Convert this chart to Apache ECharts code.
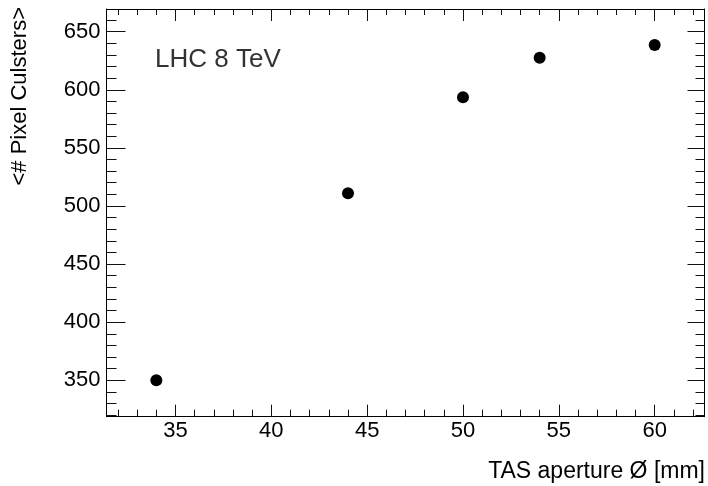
<!DOCTYPE html>
<html>
<head>
<meta charset="utf-8">
<script src="https://cdn.jsdelivr.net/npm/echarts@6/dist/echarts.min.js"></script>
<style>
  html, body { margin: 0; padding: 0; background: #fff; }
  #chart { width: 708px; height: 486px; }
</style>
</head>
<body>
<div id="chart"></div>
<script>
// data
const aperture = [34, 44, 50, 54, 60];
const clusters = [350, 511, 593.5, 627.5, 638.5];

// tick positions
const xMajor = [35, 40, 45, 50, 55, 60];
const xMinor = [32, 33, 34, 36, 37, 38, 39, 41, 42, 43, 44, 46, 47, 48, 49,
                51, 52, 53, 54, 56, 57, 58, 59, 61, 62];
const yMajor = [350, 400, 450, 500, 550, 600, 650];
const yMinor = [320, 330, 340, 360, 370, 380, 390, 410, 420, 430, 440, 460, 470, 480, 490,
                510, 520, 530, 540, 560, 570, 580, 590, 610, 620, 630, 640, 660];

const X_MIN = 31.4, X_MAX = 62.6;
const Y_MIN = 318.7, Y_MAX = 669.5;
const FONT = "Liberation Sans, Arial, sans-serif";

const chart = echarts.init(document.getElementById("chart"));

// one axis = one set of ticks (major / minor, bottom / top ...)
function tickAxis(pos, ticks, len, labels, withLine) {
  const isX = pos === "bottom" || pos === "top";
  return {
    type: "value",
    position: pos,
    min: isX ? X_MIN : Y_MIN,
    max: isX ? X_MAX : Y_MAX,
    axisLine: { show: !!withLine, onZero: false, lineStyle: { color: "#000", width: 1 } },
    axisTick: {
      show: true,
      inside: true,
      length: len,
      customValues: ticks,
      lineStyle: { color: "#111", width: 1 }
    },
    axisLabel: labels
      ? {
          show: true,
          customValues: ticks,
          color: "#000",
          fontFamily: FONT,
          fontSize: 22,
          margin: isX ? 3 : 6
        }
      : { show: false },
    splitLine: { show: false }
  };
}

const option = {
  animation: false,
  backgroundColor: "#fff",
  grid: {
    left: 106.5,
    top: 9,
    right: 3.5,
    bottom: 69.3,
    containLabel: false,
    outerBoundsMode: "none",
    show: false
  },
  xAxis: [
    tickAxis("bottom", xMajor, 12, true, true),
    tickAxis("bottom", xMinor, 7, false, false),
    tickAxis("top", xMajor, 12, false, true),
    tickAxis("top", xMinor, 6, false, false)
  ],
  yAxis: [
    tickAxis("left", yMajor, 19, true, true),
    tickAxis("left", yMinor, 10, false, false),
    tickAxis("right", yMajor, 17, false, true),
    tickAxis("right", yMinor, 9, false, false)
  ],
  series: [
    {
      type: "scatter",
      xAxisIndex: 0,
      yAxisIndex: 0,
      symbol: "circle",
      symbolSize: 12,
      itemStyle: { color: "#000", opacity: 1 },
      emphasis: { disabled: true },
      data: aperture.map((a, i) => [a, clusters[i]])
    }
  ],
  graphic: [
    {
      type: "text",
      x: 155,
      y: 60,
      style: {
        text: "LHC 8 TeV",
        fill: "#333",
        font: "26px " + FONT,
        align: "left",
        verticalAlign: "middle"
      }
    },
    {
      type: "text",
      x: 705,
      y: 472,
      style: {
        text: "TAS aperture Ø [mm]",
        fill: "#000",
        font: "23px " + FONT,
        align: "right",
        verticalAlign: "middle"
      }
    },
    {
      type: "text",
      x: 20,
      y: 7,
      rotation: Math.PI / 2,
      style: {
        text: "<# Pixel Culsters>",
        fill: "#000",
        font: "22px " + FONT,
        align: "right",
        verticalAlign: "middle"
      }
    }
  ]
};

chart.setOption(option);
</script>
</body>
</html>
